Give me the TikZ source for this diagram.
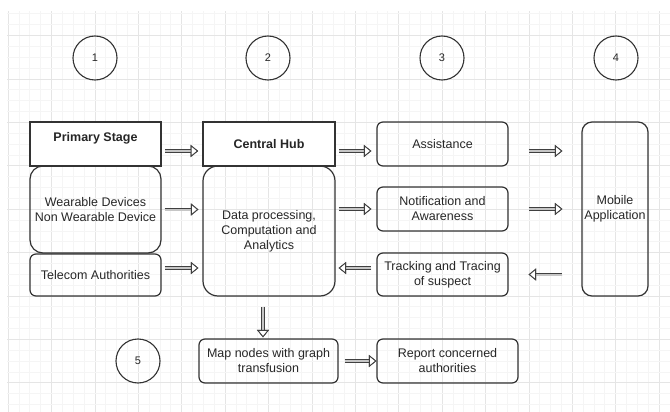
\documentclass[tikz,border=0pt]{standalone}
\usepackage{fontspec}
\setmainfont{Liberation Sans}
\usetikzlibrary{arrows.meta}

\begin{document}
\begin{tikzpicture}[x=1pt, y=-1pt, flow/.style={draw=gray!45, line width=2pt, preaction={draw=black!75, line width=3.8pt}, -{Triangle[fill=white, color=black!75, length=7.5pt, width=12pt, line width=0.9pt]}}]
        \tikzset{boite/.style={rectangle, rounded corners=6pt, draw=black!80, line width=1.2pt, align=center, text=black!85, font=\fontsize{12.5}{15}\selectfont, inner sep=1pt}};
        \tikzset{etape/.style={circle, minimum size=44pt, draw=black!80, line width=1.1pt, text=black!85, font=\fontsize{11}{13}\selectfont}};
        \useasboundingbox (0, 0) rectangle (670, 412);

        % grille
        \foreach \i in {0,...,61} {
            \pgfmathtruncatemacro{\m}{mod(\i,4)}
            \ifnum\m=0 \def\c{gray!20}\else \def\c{gray!8}\fi
            \draw[\c, line width=0.6pt] (8+\i*10.85, 11) -- (8+\i*10.85, 412);
        }
        \foreach \j in {0,...,36} {
            \pgfmathtruncatemacro{\m}{mod(\j,4)}
            \ifnum\m=2 \def\c{gray!20}\else \def\c{gray!8}\fi
            \draw[\c, line width=0.6pt] (7, 13.8+\j*10.85) -- (670, 13.8+\j*10.85);
        }

        \node[etape] (e1) at (95, 58) {1};
        \node[etape] (e2) at (268, 58) {2};
        \node[etape] (e3) at (442, 58) {3};
        \node[etape] (e4) at (616, 58) {4};
        \node[etape] (e5) at (138, 361) {5};

        \node[boite, minimum width=131pt, minimum height=87pt, rounded corners=13pt] (wear) at (95.5, 209.5) {Wearable Devices\\Non Wearable Device};
        \node[boite, minimum width=131pt, minimum height=42pt] (tele) at (95.5, 275) {Telecom Authorities};
        \node[boite, sharp corners, line width=1.6pt, fill=white, minimum width=131pt, minimum height=44pt] (prim) at (95.5, 144) {\raisebox{6pt}[\height][\depth]{\bfseries Primary Stage}};

        \node[boite, minimum width=132pt, minimum height=130pt, rounded corners=15pt] (data) at (269, 231) {Data processing,\\Computation and\\Analytics};
        \node[boite, sharp corners, line width=1.6pt, fill=white, minimum width=132pt, minimum height=44pt] (hub) at (269, 144) {\bfseries Central Hub};

        \node[boite, minimum width=131pt, minimum height=44pt] (assist) at (442.5, 144) {Assistance};
        \node[boite, minimum width=131pt, minimum height=44pt] (notif) at (442.5, 209) {Notification and\\Awareness};
        \node[boite, minimum width=131pt, minimum height=43pt] (track) at (442.5, 274.5) {Tracking and Tracing\\of suspect};

        \node[boite, minimum width=66pt, minimum height=174pt, rounded corners=10pt] (mobile) at (615, 209) {Mobile\\Application};

        \node[boite, minimum width=139pt, minimum height=44pt] (mapn) at (268.5, 361) {Map nodes with graph\\transfusion};
        \node[boite, minimum width=141pt, minimum height=44pt] (report) at (447.5, 361) {Report concerned\\authorities};

        \draw[flow, shorten <=3pt, shorten >=4pt] ([yshift=-7pt]prim.east) -- ([yshift=-7pt]prim.east -| hub.west);
        \draw[flow, shorten <=3pt, shorten >=4pt] (wear.east) -- (wear.east -| data.west);
        \draw[flow, shorten <=3pt, shorten >=4pt] ([yshift=7pt]tele.east) -- ([yshift=7pt]tele.east -| data.west);

        \draw[flow, shorten <=3pt, shorten >=5pt] ([yshift=-7pt]hub.east) -- ([yshift=-7pt]hub.east -| assist.west);
        \draw[flow, shorten <=3pt, shorten >=5pt] (notif.west -| data.east) -- (notif.west);
        \draw[flow, shorten <=5pt, shorten >=3pt] ([yshift=6.5pt]track.west) -- ([yshift=6.5pt]track.west -| data.east);

        \draw[flow, shorten <=20pt, shorten >=19pt] ([yshift=-7pt]assist.east) -- ([yshift=-7pt]assist.east -| mobile.west);
        \draw[flow, shorten <=20pt, shorten >=19pt] (notif.east) -- (notif.east -| mobile.west);
        \draw[flow, shorten <=19pt, shorten >=20pt] (track.east -| mobile.west) -- (track.east);

        \draw[flow, shorten <=10pt, shorten >=1pt] ([xshift=-6pt]data.south) -- ([xshift=-6pt]data.south |- mapn.north);
        \draw[flow, shorten <=6pt, shorten >=0pt] (mapn.east) -- (report.west);
    \end{tikzpicture}
\end{document}
